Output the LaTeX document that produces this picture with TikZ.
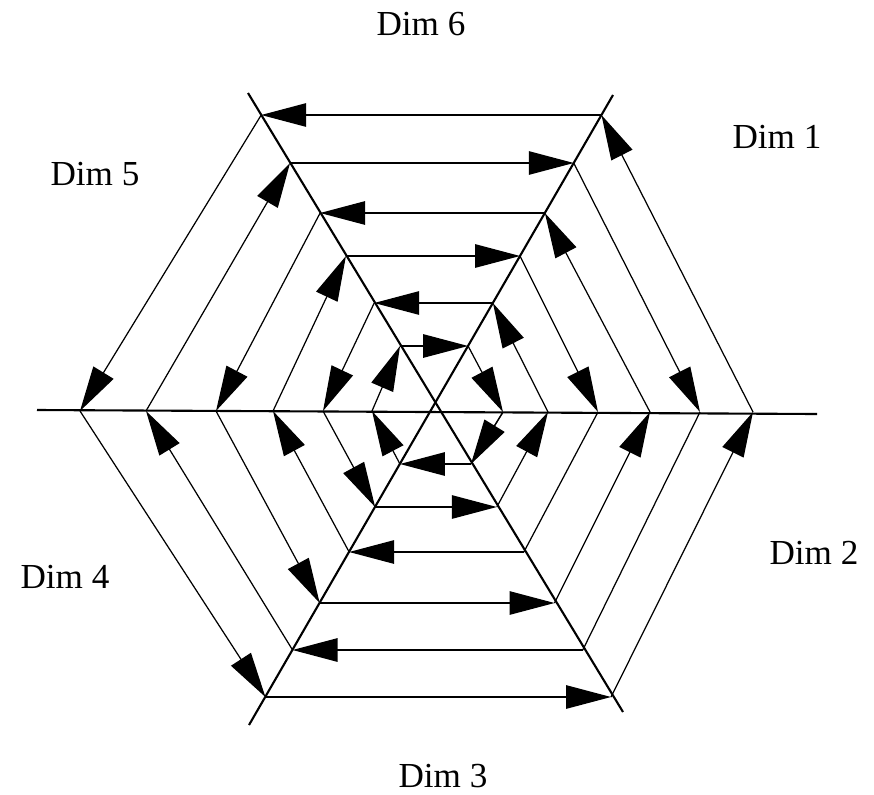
\documentclass[tikz,border=0pt]{standalone}
\usepackage{fontspec}
\setmainfont{Liberation Serif}
\usepackage{tikz}
\usetikzlibrary{arrows.meta}

\begin{document}
\begin{tikzpicture}[
  x=0.02cm, y=-0.02cm,
  axis/.style={line width=1.2pt},
  edgeline/.style={line width=0.7pt},
  edgearrow/.style={line width=0.7pt, -{Triangle[length=0.9cm, width=0.47cm]}},
  dimlabel/.style={font=\fontsize{20}{24}\selectfont, inner sep=0pt}
]
\useasboundingbox (0,0) rectangle (874,794);

% --- the three axes ---
\coordinate (hl) at (37,410);
\coordinate (hr) at (817,414);
\coordinate (atop) at (248,93);
\coordinate (abot) at (623,712);
\coordinate (btop) at (613,95);
\coordinate (bbot) at (249,725);
\draw[axis] (hl) -- (hr);
\draw[axis] (atop) -- (abot);
\draw[axis] (btop) -- (bbot);

% --- ring corners: top y, bottom y, left x, right x ---
\foreach \r/\yt/\yb/\xl/\xr in {1/115/697/80/753, 2/163/650/146/700,
    3/213/603/216/650, 4/256/552/273/598, 5/303/507/323/548, 6/346/464/372/503} {
  \coordinate (tl\r) at ({248+(\yt-93)/1.664}, \yt);
  \coordinate (tr\r) at ({613-(\yt-95)/1.732}, \yt);
  \coordinate (br\r) at ({248+(\yb-93)/1.664}, \yb);
  \coordinate (bl\r) at ({613-(\yb-95)/1.732}, \yb);
  \coordinate (l\r) at (\xl,411);
  \coordinate (r\r) at (\xr,412);
}

% rings 1, 3, 5 run one way
\foreach \r in {1,3,5} {
  \draw[edgearrow] (tr\r) -- (tl\r);
  \draw[edgearrow] (tl\r) -- (l\r);
  \draw[edgearrow] (l\r) -- (bl\r);
  \draw[edgearrow] (bl\r) -- (br\r);
  \draw[edgearrow] (br\r) -- (r\r);
  \draw[edgearrow] (r\r) -- (tr\r);
}
% rings 2, 4, 6 run the other way
\foreach \r in {2,4,6} {
  \draw[edgearrow] (tl\r) -- (tr\r);
  \draw[edgearrow] (tr\r) -- (r\r);
  \draw[edgeline] (r\r) -- (br\r);
  \draw[edgearrow] (br\r) -- (bl\r);
  \draw[edgearrow] (bl\r) -- (l\r);
  \draw[edgearrow] (l\r) -- (tl\r);
}
\draw[edgearrow] (r6) -- (br6);

% --- labels ---
\node[dimlabel] (dim6) at (421,24) {Dim 6};
\node[dimlabel] (dim1) at (777,137) {Dim 1};
\node[dimlabel] (dim5) at (95,174) {Dim 5};
\node[dimlabel] (dim4) at (65,577) {Dim 4};
\node[dimlabel] (dim2) at (814,553) {Dim 2};
\node[dimlabel] (dim3) at (443,776) {Dim 3};
\end{tikzpicture}
\end{document}
